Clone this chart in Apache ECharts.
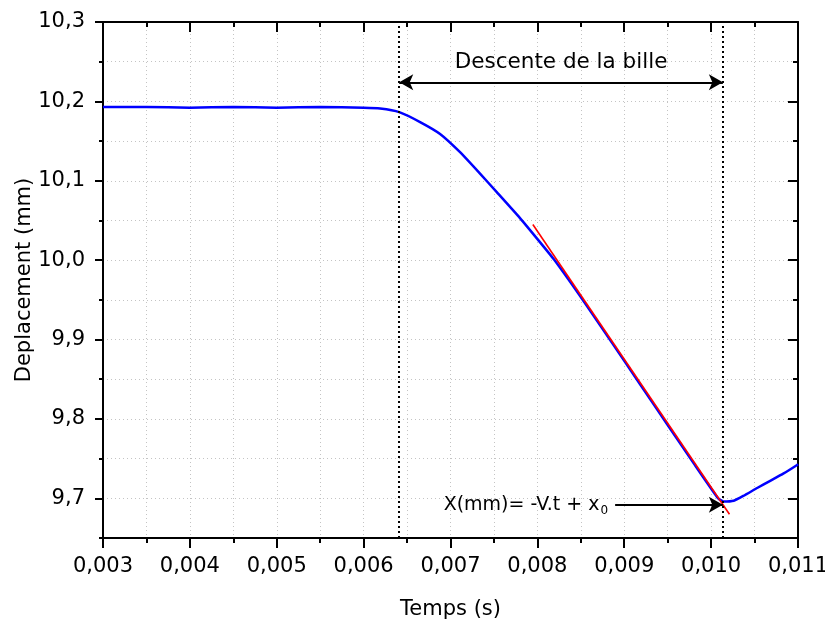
<!DOCTYPE html>
<html>
<head>
<meta charset="utf-8">
<script src="https://cdn.jsdelivr.net/npm/echarts@6/dist/echarts.min.js"></script>
<style>
  html, body { margin: 0; padding: 0; background: #fff; }
  #chart { width: 825px; height: 624px; }
</style>
</head>
<body>
<div id="chart"></div>
<script>
// Measured ball position (mm) against time (s)
const timeS = [
  0.0030, 0.0035, 0.0040, 0.0045, 0.0050, 0.0055, 0.0060, 0.00619,
  0.00641, 0.00665, 0.00688, 0.00711, 0.00734, 0.00753, 0.00780, 0.00802,
  0.00819, 0.00849, 0.00884, 0.00918, 0.00949, 0.00980, 0.01008, 0.01014,
  0.01026, 0.01037, 0.01053, 0.01068, 0.01083, 0.01099, 0.01100
];
const displacementMm = [
  10.193, 10.193, 10.192, 10.193, 10.192, 10.193, 10.192, 10.191,
  10.1865, 10.174, 10.159, 10.136, 10.109, 10.086, 10.053, 10.024,
  10.001, 9.955, 9.899, 9.844, 9.794, 9.744, 9.700, 9.696,
  9.697, 9.703, 9.713, 9.722, 9.731, 9.742, 9.743
];

// Linear fit X = -V.t + x0 over the descent
const fitTimeS = [0.007948, 0.010211];
const fitDisplacementMm = [10.045, 9.680];

// Descent window and annotation anchors
const descentBoundsS = [0.00641, 0.010135];
const descentArrowMm = 10.224;
const formulaArrowStartS = 0.008895;
const formulaArrowMm = 9.692;

// Axis extents
const timeRangeS = [0.003, 0.011];
const displacementRangeMm = [9.65, 10.3];

const FONT = 'DejaVu Sans';
const comma = (v, digits) => v.toFixed(digits).replace('.', ',');
const gridDots = { color: '#c4c4c4', type: [1, 3], width: 1 };
const blackLine = { color: '#000', width: 2 };

const curve = timeS.map((t, i) => [t, displacementMm[i]]);
const fit = fitTimeS.map((t, i) => [t, fitDisplacementMm[i]]);

const chart = echarts.init(document.getElementById('chart'), null, { renderer: 'canvas' });

chart.setOption({
  animation: false,
  backgroundColor: '#fff',
  grid: { left: 103, top: 22, width: 695, height: 516, containLabel: false, outerBoundsMode: 'none' },
  xAxis: [
    {
      type: 'value', position: 'bottom',
      min: timeRangeS[0], max: timeRangeS[1], interval: 0.001,
      axisLine: { onZero: false, lineStyle: blackLine },
      axisTick: { length: 10, lineStyle: blackLine },
      minorTick: { show: true, splitNumber: 2, length: 5, lineStyle: blackLine },
      splitLine: { show: true, lineStyle: gridDots },
      minorSplitLine: { show: true, lineStyle: gridDots },
      axisLabel: {
        margin: 18, fontSize: 21, fontFamily: FONT, color: '#000',
        hideOverlap: false,
        formatter: v => comma(v, 3)
      },
      name: 'Temps (s)', nameLocation: 'middle', nameGap: 61,
      nameTextStyle: { fontSize: 21, fontFamily: FONT, color: '#000' }
    },
    {
      type: 'value', position: 'top',
      min: timeRangeS[0], max: timeRangeS[1], interval: 0.001,
      axisLine: { onZero: false, lineStyle: blackLine },
      axisTick: { inside: true, length: 10, lineStyle: blackLine },
      minorTick: { show: true, splitNumber: 2, length: 5, lineStyle: blackLine },
      splitLine: { show: false },
      axisLabel: { show: false }
    }
  ],
  yAxis: [
    {
      // main left axis: labelled ticks every 0.1 mm
      type: 'value', position: 'left',
      min: displacementRangeMm[0], max: displacementRangeMm[1], splitNumber: 5,
      axisLine: { onZero: false, lineStyle: blackLine },
      axisTick: { length: 8, lineStyle: blackLine },
      splitLine: { show: false },
      axisLabel: {
        margin: 18, fontSize: 21, fontFamily: FONT, color: '#000',
        showMinLabel: false,
        formatter: v => comma(v, 1)
      },
      name: 'Deplacement (mm)', nameLocation: 'middle', nameGap: 68,
      nameMoveOverlap: false,
      nameTextStyle: { fontSize: 21, fontFamily: FONT, color: '#000' }
    },
    {
      // half-step ticks and dotted grid on the left
      type: 'value', position: 'left',
      min: displacementRangeMm[0], max: displacementRangeMm[1], interval: 0.05,
      axisLine: { show: false },
      axisTick: { length: 4, lineStyle: blackLine },
      splitLine: { show: true, lineStyle: gridDots },
      axisLabel: { show: false }
    },
    {
      type: 'value', position: 'right',
      min: displacementRangeMm[0], max: displacementRangeMm[1], splitNumber: 5,
      axisLine: { onZero: false, lineStyle: blackLine },
      axisTick: { inside: true, length: 10, lineStyle: blackLine },
      splitLine: { show: false },
      axisLabel: { show: false }
    },
    {
      type: 'value', position: 'right',
      min: displacementRangeMm[0], max: displacementRangeMm[1], interval: 0.05,
      axisLine: { show: false },
      axisTick: { inside: true, length: 5, lineStyle: blackLine },
      splitLine: { show: false },
      axisLabel: { show: false }
    }
  ],
  series: [
    {
      name: 'mesure', type: 'line', xAxisIndex: 0, yAxisIndex: 0,
      data: curve, showSymbol: false, smooth: 0.15, z: 3,
      lineStyle: { color: '#0000ff', width: 2.5 },
      markLine: {
        silent: true, symbol: ['none', 'none'],
        lineStyle: { color: '#000', type: [2, 3], width: 2 },
        label: { show: false },
        data: descentBoundsS.map(t => [
          { coord: [t, displacementRangeMm[0]] },
          { coord: [t, displacementRangeMm[1]] }
        ])
      }
    },
    {
      name: 'ajustement', type: 'line', xAxisIndex: 0, yAxisIndex: 0,
      data: fit, showSymbol: false, z: 4,
      lineStyle: { color: '#ff0000', width: 1.6 },
      markLine: {
        silent: true,
        symbolSize: [12, 14],
        lineStyle: { color: '#000', type: 'solid', width: 2 },
        data: [
          [
            {
              coord: [descentBoundsS[0], descentArrowMm], symbol: 'arrow',
              label: {
                show: true, position: 'insideMiddleTop', distance: 9,
                formatter: 'Descente de la bille',
                fontSize: 21.5, fontFamily: FONT, color: '#000'
              }
            },
            { coord: [descentBoundsS[1], descentArrowMm], symbol: 'arrow' }
          ],
          [
            {
              coord: [formulaArrowStartS, formulaArrowMm], symbol: 'none',
              label: {
                show: true, position: 'start', distance: 7,
                formatter: '{m|X(mm)= -V.t + x}{s|0}',
                color: '#000',
                rich: {
                  m: { fontSize: 19, fontFamily: FONT, color: '#000' },
                  s: { fontSize: 12, fontFamily: FONT, color: '#000', padding: [12, 0, 0, 1] }
                }
              }
            },
            { coord: [descentBoundsS[1], formulaArrowMm], symbol: 'arrow' }
          ]
        ]
      }
    }
  ]
});
</script>
</body>
</html>
